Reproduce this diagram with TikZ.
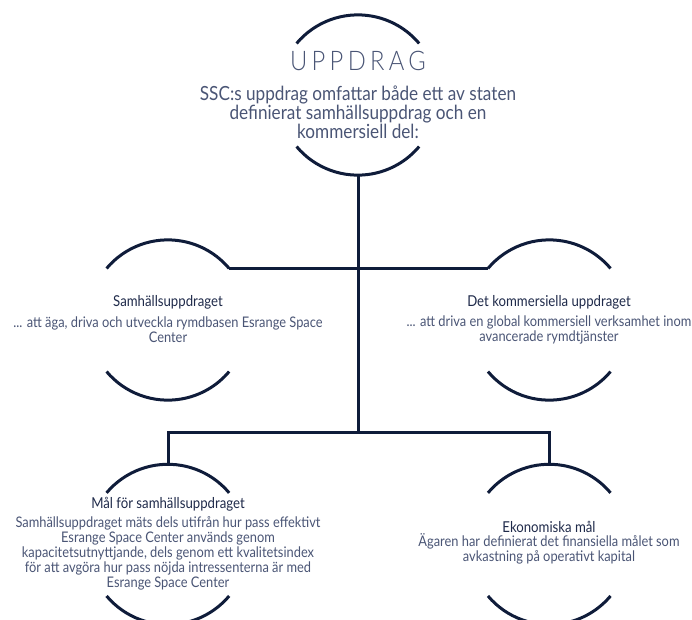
\documentclass[tikz,border=0pt]{standalone}
\usepackage{fontspec}
\setmainfont{Lato}[FakeStretch=0.88]
\newfontfamily\thinfont{Lato Light}[FakeStretch=0.88]
\usetikzlibrary{positioning}

\definecolor{navy}{HTML}{0F1C3A}
\definecolor{inktext}{HTML}{4A5575}
\definecolor{inkhead}{HTML}{1F2A4A}

\tikzset{
  x=1pt, y=1pt,
  ring/.style={shape=circle, minimum size=160pt, inner sep=0pt},
  stroke/.style={draw=navy, line width=3pt},
  head/.style={text=inkhead, font=\fontsize{15}{16}\selectfont, inner sep=0pt},
  body/.style={text=inktext, align=center, inner sep=0pt, font=\fontsize{14.6}{15}\selectfont},
}

\begin{document}
\begin{tikzpicture}
  \useasboundingbox (0,0) rectangle (692,-619);

  \node[ring] (upd) at (358,-95) {};
  \node[ring] (samh) at (168,-320) {};
  \node[ring, right=221pt of samh] (komm) {};
  \node[ring, below=64pt of samh] (malsam) {};
  \node[ring, right=221pt of malsam] (ekon) {};
  \coordinate (fork) at (upd.south |- 0,-432);

  \foreach \r in {upd, samh, komm, malsam, ekon} {
    \draw[stroke] (\r.140) arc[start angle=140, end angle=40, radius=80pt];
    \draw[stroke] (\r.220) arc[start angle=220, end angle=320, radius=80pt];
  }

  \node[text=inktext, font=\thinfont\fontsize{27}{27}\selectfont\addfontfeatures{LetterSpace=16}] (title) at (358,-61) {UPPDRAG};
  \node[body, font=\fontsize{19.5}{17.5}\selectfont] (intro) at (358,-112)
    {SSC:s uppdrag omfattar både ett av staten\\definierat samhällsuppdrag och en\\kommersiell del:};

  \node[head] (samhhead) at (168,-302) {Samhällsuppdraget};
  \node[body] (samhtext) at (168,-330)
    {... att äga, driva och utveckla rymdbasen Esrange Space\\Center};

  \node[head] (kommhead) at (549,-302) {Det kommersiella uppdraget};
  \node[body] (kommtext) at (549,-330)
    {... att driva en global kommersiell verksamhet inom\\avancerade rymdtjänster};

  \node[head] (malhead) at (168,-504) {Mål för samhällsuppdraget};
  \node[body] (maltext) at (168,-553.5)
    {Samhällsuppdraget mäts dels utifrån hur pass effektivt\\Esrange Space Center används genom\\kapacitetsutnyttjande, dels genom ett kvalitetsindex\\för att avgöra hur pass nöjda intressenterna är med\\Esrange Space Center};

  \node[head] (ekonhead) at (549,-527) {Ekonomiska mål};
  \node[body] (ekontext) at (549,-549)
    {Ägaren har definierat det finansiella målet som\\avkastning på operativt kapital};

  \path[stroke] (upd.south) to (fork);
  \path[stroke] (samh.40) to (komm.140);
  \path[stroke] (malsam.north) |- (fork) -| (ekon.north);

\end{tikzpicture}
\end{document}
